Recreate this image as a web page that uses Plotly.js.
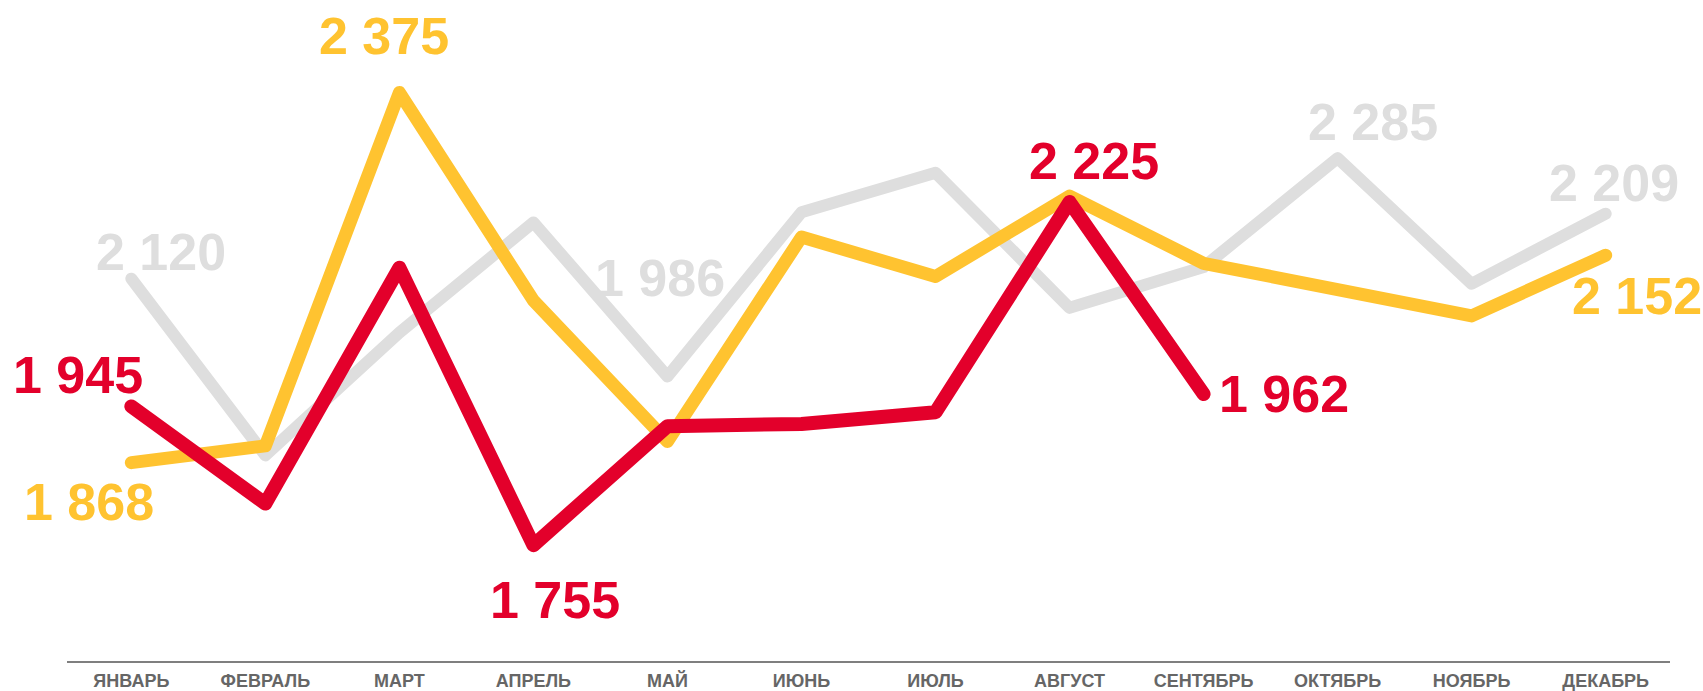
<!DOCTYPE html>
<html>
<head>
<meta charset="utf-8">
<script src="https://cdn.plot.ly/plotly-3.0.1.min.js"></script>
<style>
  html, body { margin: 0; padding: 0; background: #ffffff; }
  #chart { width: 1703px; height: 691px; }
  .scatterlayer .js-line { stroke-linecap: round !important; stroke-linejoin: round !important; }
</style>
</head>
<body>
<div id="chart"></div>
<script>
// Categories (months)
const months = ["ЯНВАРЬ", "ФЕВРАЛЬ", "МАРТ", "АПРЕЛЬ", "МАЙ", "ИЮНЬ", "ИЮЛЬ", "АВГУСТ", "СЕНТЯБРЬ", "ОКТЯБРЬ", "НОЯБРЬ", "ДЕКАБРЬ"];

// Series values
const greyValues   = [2120, 1878, 2046, 2197, 1986, 2211, 2265, 2080, 2136, 2285, 2113, 2209];
const yellowValues = [1868, 1891, 2375, 2090, 1897, 2177, 2123, 2233, 2141, 2105, 2069, 2152];
const redValues    = [1945, 1812, 2135, 1755, 1918, 1921, 1937, 2225, 1962];

// Which points carry a value label: [series, month index]
const labelPoints = [
  ["grey", 0], ["grey", 4], ["grey", 9], ["grey", 11],
  ["yellow", 0], ["yellow", 2], ["yellow", 11],
  ["red", 0], ["red", 3], ["red", 7], ["red", 8]
];

// Styling / placement (kept apart from the data)
const colors = { grey: "#DEDEDE", yellow: "#FFC330", red: "#E3002B" };
const widths = { grey: 12, yellow: 13, red: 14 };
const labelShift = {
  "grey-0": [30, 27], "grey-4": [-7, 99], "grey-9": [35, 36], "grey-11": [8, 31],
  "yellow-0": [-42, -39], "yellow-2": [-15, 56], "yellow-11": [31, -41],
  "red-0": [-53, 31], "red-3": [22, -55], "red-7": [24, 41], "red-8": [80, 0]
};

const seriesData = { grey: greyValues, yellow: yellowValues, red: redValues };

function fmt(v) {
  return String(v).replace(/\B(?=(\d{3})+(?!\d))/g, " ");
}

const traces = ["grey", "yellow", "red"].map(function (name) {
  const vals = seriesData[name];
  return {
    type: "scatter",
    mode: "lines",
    x: months.slice(0, vals.length),
    y: vals,
    line: { color: colors[name], width: widths[name] },
    hoverinfo: "skip",
    showlegend: false
  };
});

const annotations = labelPoints.map(function (p) {
  const name = p[0], i = p[1];
  const s = labelShift[name + "-" + i];
  return {
    x: months[i],
    y: seriesData[name][i],
    xref: "x", yref: "y",
    text: fmt(seriesData[name][i]),
    showarrow: false,
    xanchor: "center", yanchor: "middle",
    xshift: s[0], yshift: s[1],
    font: { family: "Liberation Sans, Arial, sans-serif", size: 52, color: colors[name], weight: "bold" }
  };
});

const layout = {
  width: 1703,
  height: 691,
  margin: { l: 67, r: 33, t: 10, b: 30 },
  paper_bgcolor: "#ffffff",
  plot_bgcolor: "#ffffff",
  showlegend: false,
  xaxis: {
    type: "category",
    categoryorder: "array",
    categoryarray: months,
    range: [-0.48, 11.48],
    showline: true,
    linecolor: "#7F7F7F",
    linewidth: 2,
    showgrid: false,
    zeroline: false,
    ticks: "",
    ticklabelstandoff: 2,
    tickfont: { family: "Liberation Sans, Arial, sans-serif", size: 18, color: "#666666", weight: "bold" },
    fixedrange: true
  },
  yaxis: {
    range: [1596.4, 2487.9],
    visible: false,
    showgrid: false,
    zeroline: false,
    fixedrange: true
  },
  annotations: annotations
};

Plotly.newPlot("chart", traces, layout, { displayModeBar: false, staticPlot: true });
</script>
</body>
</html>
